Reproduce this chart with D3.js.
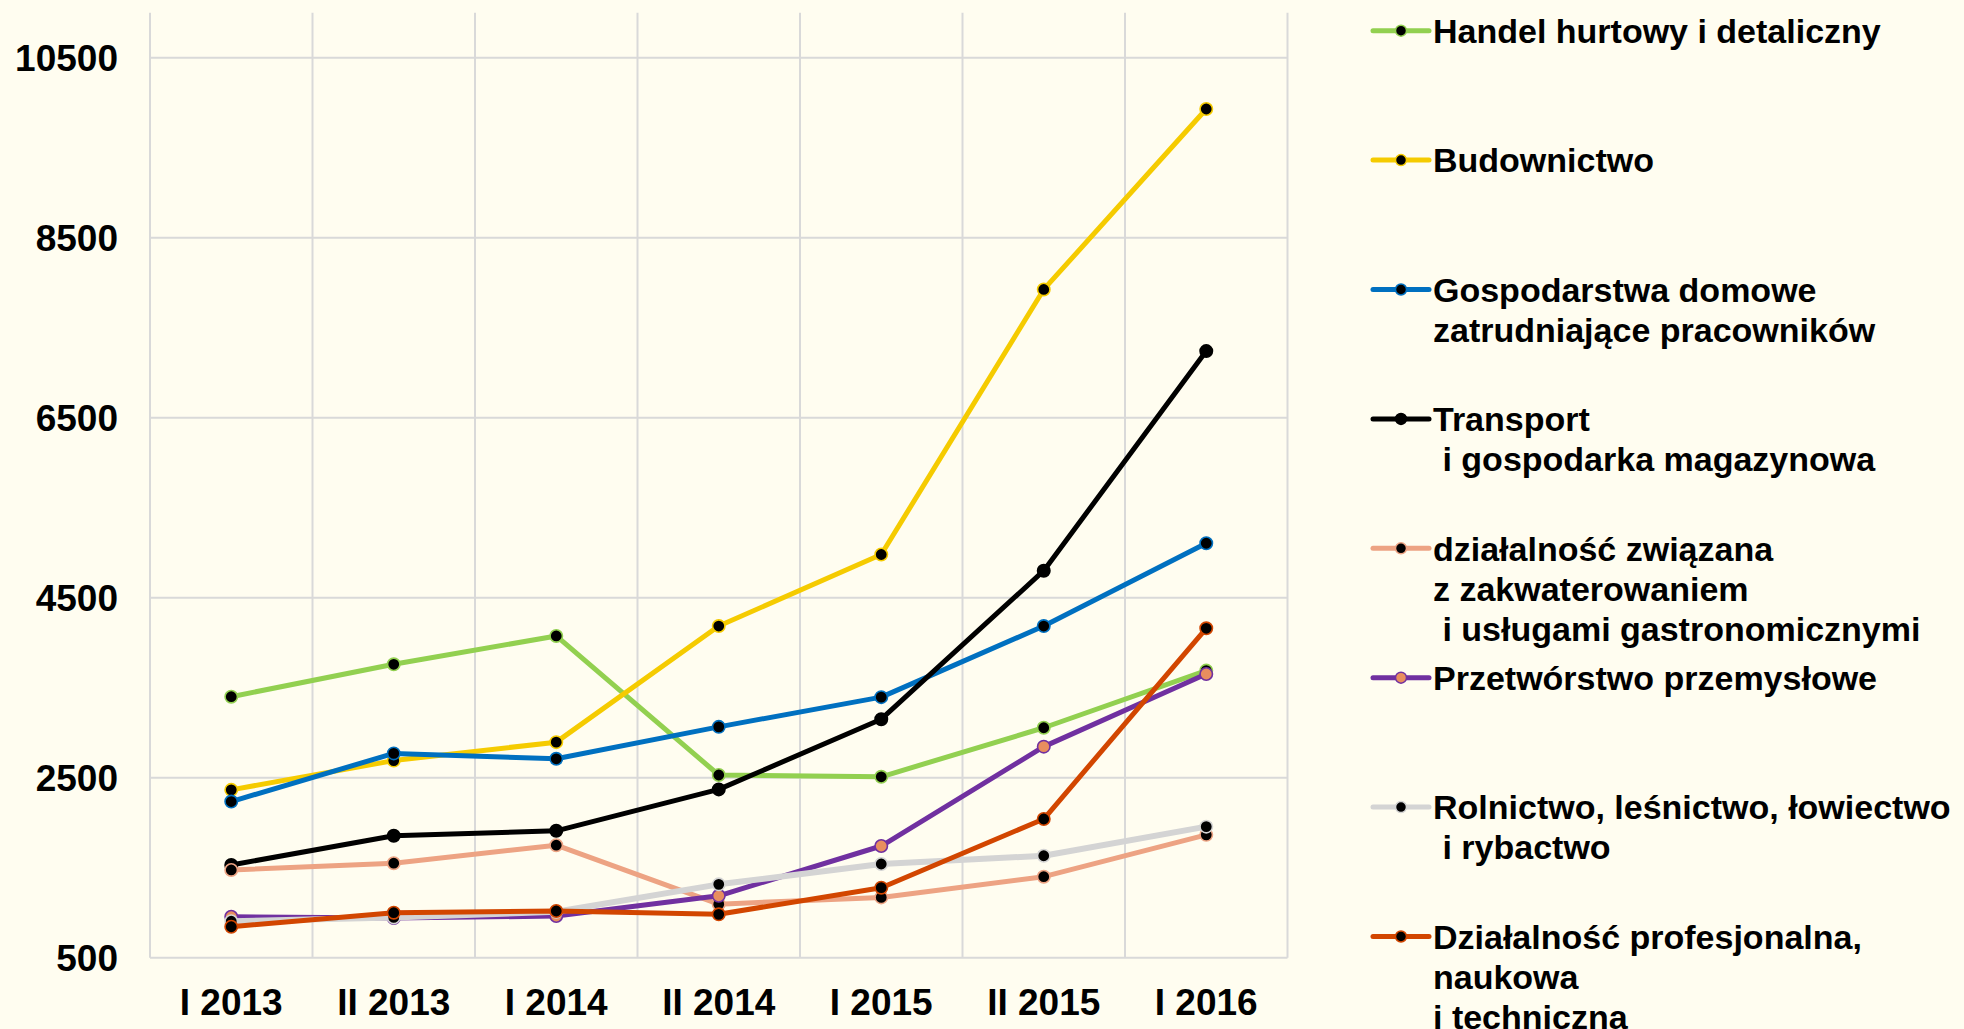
<!DOCTYPE html>
<html>
<head>
<meta charset="utf-8">
<script src="https://cdn.jsdelivr.net/npm/d3@7"></script>
<style>
  body { margin: 0; background: #FFFDF0; }
  text { font-family: "Liberation Sans", Arial, sans-serif; font-weight: bold; fill: #000; white-space: pre; }
</style>
</head>
<body>
<div id="canvas"></div>
<script>
const categories = ["I 2013", "II 2013", "I 2014", "II 2014", "I 2015", "II 2015", "I 2016"];
const yTicks = [500, 2500, 4500, 6500, 8500, 10500];

const handel = [3400, 3760, 4075, 2530, 2510, 3055, 3690];
const budownictwo = [2365, 2690, 2895, 4185, 4980, 7925, 9930];
const gospodarstwa = [2235, 2770, 2710, 3065, 3395, 4185, 5105];
const transport = [1530, 1855, 1910, 2370, 3150, 4800, 7240];
const zakwaterowanie = [1475, 1550, 1750, 1095, 1170, 1400, 1865];
const przetworstwo = [955, 940, 963, 1188, 1741, 2845, 3652];
const rolnictwo = [905, 948, 1010, 1315, 1541, 1633, 1956];
const profesjonalna = [844, 1000, 1019, 982, 1278, 2041, 4160];

const seriesNames = [
  ["Handel hurtowy i detaliczny"],
  ["Budownictwo"],
  ["Gospodarstwa domowe", "zatrudniające pracowników"],
  ["Transport", " i gospodarka magazynowa"],
  ["działalność związana", "z zakwaterowaniem", " i usługami gastronomicznymi"],
  ["Przetwórstwo przemysłowe"],
  ["Rolnictwo, leśnictwo, łowiectwo", " i rybactwo"],
  ["Działalność profesjonalna,", "naukowa", "i techniczna"]
];
const seriesValues = [handel, budownictwo, gospodarstwa, transport, zakwaterowanie, przetworstwo, rolnictwo, profesjonalna];
const lineColors = ["#92D050", "#F5CB00", "#0070C0", "#000000", "#EDA383", "#7030A0", "#D4D4D4", "#D24600"];
const markerFill = ["#000", "#000", "#000", "#000", "#000", "#E88E5E", "#000", "#000"];

const width = 1964;
const height = 1029;

const svg = d3.select("#canvas").append("svg")
  .attr("width", width)
  .attr("height", height);

svg.append("rect").attr("width", width).attr("height", height).attr("fill", "#FFFDF0");

const x = d3.scaleBand()
  .domain(categories)
  .range([150, 1287.5]);

const y = d3.scaleLinear()
  .domain([500, 11000])
  .range([957.7, 12.7]);

const cx = d => x(d) + x.bandwidth() / 2;

// grid
const grid = svg.append("g").attr("stroke", "#D9D9D9").attr("stroke-width", 2);
grid.selectAll("line.h").data(yTicks).enter().append("line")
  .attr("x1", 150).attr("x2", 1287.5)
  .attr("y1", d => y(d)).attr("y2", d => y(d));
grid.selectAll("line.v").data(categories.concat([null])).enter().append("line")
  .attr("x1", (d, i) => 150 + i * x.bandwidth())
  .attr("x2", (d, i) => 150 + i * x.bandwidth())
  .attr("y1", y(11000)).attr("y2", y(500));

// axes labels
svg.append("g").selectAll("text").data(yTicks).enter().append("text")
  .attr("x", 118)
  .attr("y", d => y(d))
  .attr("dy", "0.36em")
  .attr("text-anchor", "end")
  .style("font-size", "37px")
  .text(d => d);

svg.append("g").selectAll("text").data(categories).enter().append("text")
  .attr("x", d => cx(d))
  .attr("y", 1015)
  .attr("text-anchor", "middle")
  .style("font-size", "37px")
  .text(d => d);

// series
const line = d3.line()
  .x((d, i) => cx(categories[i]))
  .y(d => y(d));

seriesValues.forEach((vals, s) => {
  const g = svg.append("g");
  g.append("path")
    .attr("d", line(vals))
    .attr("fill", "none")
    .attr("stroke", lineColors[s])
    .attr("stroke-width", s === 6 ? 6 : 5)
    .attr("stroke-linejoin", "round");
  g.selectAll("circle").data(vals).enter().append("circle")
    .attr("cx", (d, i) => cx(categories[i]))
    .attr("cy", d => y(d))
    .attr("r", 6.2)
    .attr("fill", markerFill[s])
    .attr("stroke", lineColors[s])
    .attr("stroke-width", 1.6);
});

// legend
const legend = svg.append("g");
seriesNames.forEach((lines, s) => {
  const ly = 30.7 + s * 129.4;
  const g = legend.append("g").attr("transform", `translate(0,${ly})`);
  g.append("line")
    .attr("x1", 1373).attr("x2", 1429)
    .attr("y1", 0).attr("y2", 0)
    .attr("stroke", lineColors[s])
    .attr("stroke-width", 5)
    .attr("stroke-linecap", "round");
  g.append("circle")
    .attr("cx", 1401).attr("cy", 0).attr("r", 5.5)
    .attr("fill", markerFill[s])
    .attr("stroke", lineColors[s])
    .attr("stroke-width", 1.5);
  g.selectAll("text").data(lines).enter().append("text")
    .attr("x", 1433)
    .attr("y", (d, i) => i * 40)
    .attr("dy", "0.36em")
    .style("font-size", "34px")
    .text(d => d);
});
</script>
</body>
</html>
